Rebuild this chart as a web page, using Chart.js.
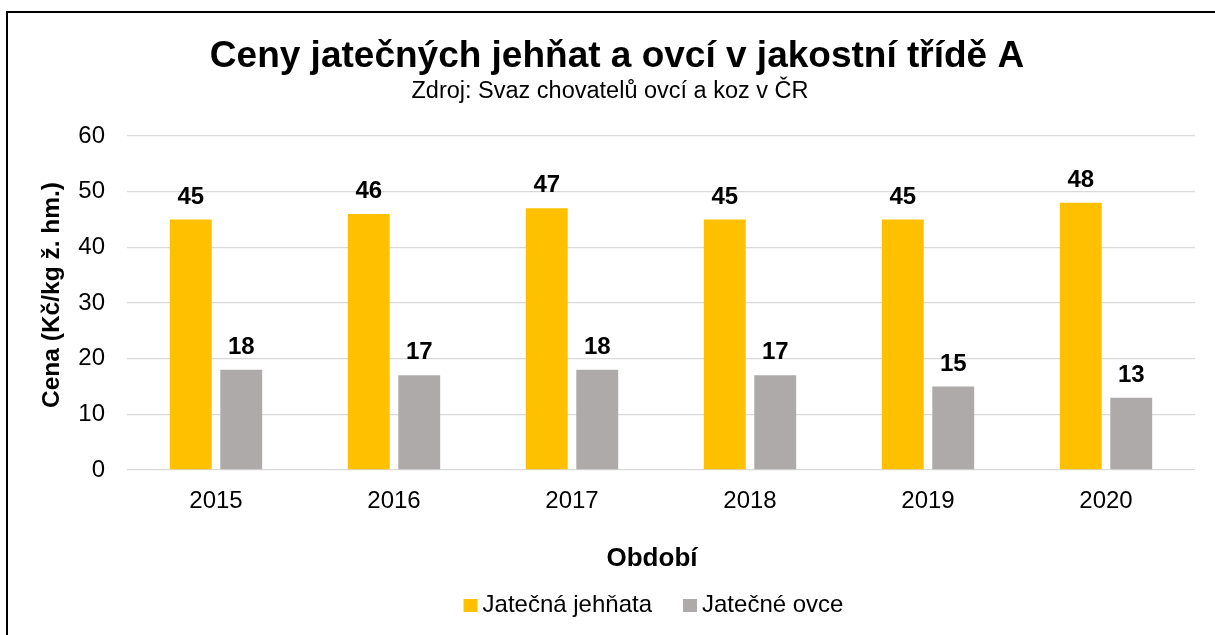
<!DOCTYPE html>
<html lang="cs">
<head>
<meta charset="utf-8">
<title>Ceny jatečných jehňat a ovcí</title>
<script src="https://cdn.jsdelivr.net/npm/chart.js@4.4.1/dist/chart.umd.min.js"></script>
<style>
  html, body { margin: 0; padding: 0; background: #fff; }
  #wrap { width: 1215px; height: 635px; }
</style>
</head>
<body>
<div id="wrap"><canvas id="myChart" width="1215" height="635"></canvas></div>
<script>
const years = ['2015', '2016', '2017', '2018', '2019', '2020'];
const lambPrices = [45, 46, 47, 45, 45, 48];
const sheepPrices = [18, 17, 18, 17, 15, 13];
const seriesNames = ['Jatečná jehňata', 'Jatečné ovce'];
const seriesColors = ['#FFC000', '#AEAAAA'];
const yMin = 0;
const yMax = 60;
const yStep = 10;

const FONT = "'Liberation Sans', Arial, sans-serif";
const ctx = document.getElementById('myChart');

// value labels above each bar
const barLabels = {
  id: 'barLabels',
  afterDatasetsDraw(chart) {
    const c = chart.ctx;
    c.save();
    c.font = 'bold 24px ' + FONT;
    c.fillStyle = '#000';
    c.textAlign = 'center';
    c.textBaseline = 'alphabetic';
    chart.data.datasets.forEach((ds, i) => {
      chart.getDatasetMeta(i).data.forEach((bar, j) => {
        c.fillText(String(ds.data[j]), bar.x, bar.y - 16);
      });
    });
    c.restore();
  }
};

// frame, titles, axis titles and legend
const decorations = {
  id: 'decorations',
  afterDraw(chart) {
    const c = chart.ctx;
    const area = chart.chartArea;
    c.save();

    c.strokeStyle = '#000';
    c.lineWidth = 2;
    c.beginPath();
    c.moveTo(7, 635);
    c.lineTo(7, 12);
    c.lineTo(1215, 12);
    c.stroke();

    c.fillStyle = '#000';
    c.textAlign = 'center';
    c.textBaseline = 'alphabetic';
    c.font = 'bold 37px ' + FONT;
    c.fillText('Ceny jatečných jehňat a ovcí v jakostní třídě A', 617, 67);
    c.font = '23.5px ' + FONT;
    c.fillText('Zdroj: Svaz chovatelů ovcí a koz v ČR', 610, 98);

    c.font = 'bold 26px ' + FONT;
    c.fillText('Období', 652, 566);

    c.save();
    c.translate(52, (area.top + area.bottom) / 2 - 8);
    c.rotate(-Math.PI / 2);
    c.textBaseline = 'middle';
    c.font = 'bold 24.5px ' + FONT;
    c.fillText('Cena (Kč/kg ž. hm.)', 0, 0);
    c.restore();

    // legend
    c.font = '24px ' + FONT;
    c.textAlign = 'left';
    const box = 14, gap = 5, itemGap = 31;
    const widths = seriesNames.map(n => c.measureText(n).width);
    const total = widths.reduce((s, w) => s + box + gap + w, 0) + itemGap * (seriesNames.length - 1);
    let x = 653.5 - total / 2;
    seriesNames.forEach((name, i) => {
      c.fillStyle = seriesColors[i];
      c.fillRect(x, 599, box, 13);
      c.fillStyle = '#000';
      c.fillText(name, x + box + gap, 612);
      x += box + gap + widths[i] + itemGap;
    });

    c.restore();
  }
};

new Chart(ctx, {
  type: 'bar',
  data: {
    labels: years,
    datasets: [
      {
        label: seriesNames[0],
        data: lambPrices,
        backgroundColor: seriesColors[0],
        categoryPercentage: 0.567,
        barPercentage: 0.83
      },
      {
        label: seriesNames[1],
        data: sheepPrices,
        backgroundColor: seriesColors[1],
        categoryPercentage: 0.567,
        barPercentage: 0.83
      }
    ]
  },
  options: {
    responsive: false,
    animation: false,
    events: [],
    layout: {
      padding: { top: 136, right: 20, bottom: 0, left: 0 }
    },
    plugins: {
      legend: { display: false },
      title: { display: false },
      tooltip: { enabled: false }
    },
    scales: {
      x: {
        grid: { display: false },
        border: { display: false },
        ticks: {
          color: '#000',
          font: { family: FONT, size: 24 },
          padding: 9
        },
        afterFit(scale) { scale.height = 165; }
      },
      y: {
        min: yMin,
        max: yMax,
        grid: { color: '#d9d9d9', lineWidth: 1.3, drawTicks: false },
        border: { display: false },
        ticks: {
          stepSize: yStep,
          color: '#000',
          font: { family: FONT, size: 24 },
          padding: 22
        },
        afterFit(scale) { scale.width = 127; }
      }
    }
  },
  plugins: [barLabels, decorations]
});
</script>
</body>
</html>
